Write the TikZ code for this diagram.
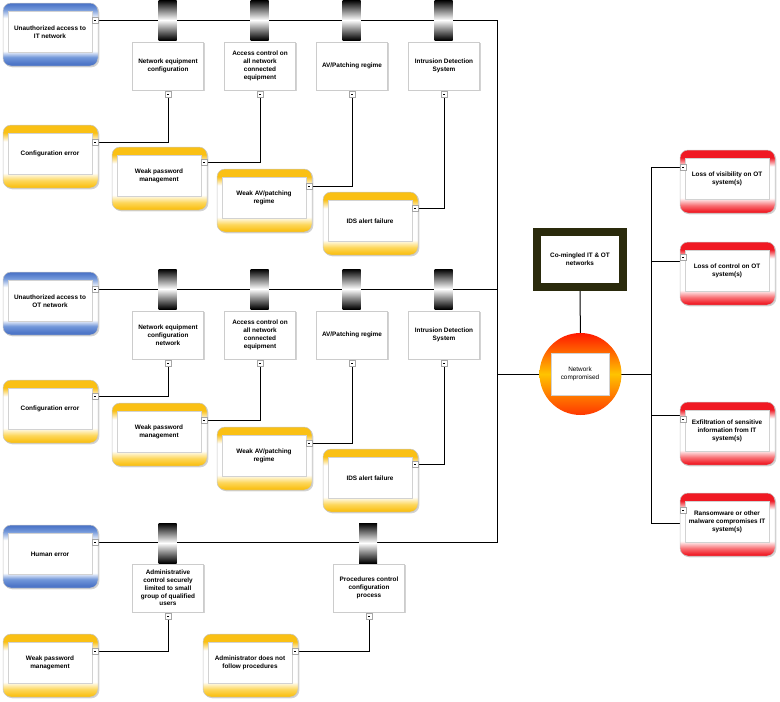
\documentclass[tikz,border=0pt]{standalone}
\usepackage{fontspec}
\setmainfont{Liberation Sans}
\usetikzlibrary{shadows}
\definecolor{yel}{RGB}{250,192,20}
\definecolor{yelb}{RGB}{253,215,90}
\definecolor{blu}{RGB}{78,118,200}
\definecolor{blub}{RGB}{115,152,218}
\definecolor{rd}{RGB}{240,25,35}
\definecolor{rdb}{RGB}{248,110,115}
\definecolor{olivebox}{RGB}{42,42,12}
\pgfdeclareverticalshading{yshade}{100bp}{color(0bp)=(yel); color(26bp)=(yel); color(31bp)=(yelb); color(37bp)=(white); color(62bp)=(white); color(69bp)=(yel); color(100bp)=(yel)}
\pgfdeclareverticalshading{bshade}{100bp}{color(0bp)=(blu); color(27bp)=(blu); color(32bp)=(blub); color(37bp)=(white); color(63bp)=(white); color(70bp)=(blub); color(74bp)=(blu); color(100bp)=(blu)}
\pgfdeclareverticalshading{rshade}{100bp}{color(0bp)=(rd); color(26bp)=(rd); color(31bp)=(rdb); color(37bp)=(white); color(62bp)=(white); color(69bp)=(rd); color(100bp)=(rd)}
\pgfdeclarelayer{bg}\pgfsetlayers{bg,main}
\tikzset{
 lbl/.style={font=\fontsize{6.4}{7.8}\selectfont\bfseries, align=center},
 shad/.style={drop shadow={shadow xshift=1.3pt,shadow yshift=-1.3pt,opacity=0.35}},
 outerbox/.style={rounded corners=8pt, minimum width=95pt, minimum height=63pt, draw=gray!45, line width=0.5pt, shad, inner sep=0pt},
 yellowbox/.style={outerbox, shade, shading=yshade},
 bluebox/.style={outerbox, shade, shading=bshade},
 redbox/.style={outerbox, shade, shading=rshade},
 innerbox/.style={lbl, draw=gray!35, fill=white, minimum width=84pt, minimum height=41pt, inner sep=1pt},
 ctrl/.style={lbl, draw=gray!40, fill=white, minimum width=71pt, minimum height=48pt, inner sep=1pt, shad},
 barrier/.style={minimum width=18pt, minimum height=40pt, inner sep=0pt, top color=black, bottom color=black, middle color=white},
 sq/.style={draw=gray!70, fill=white, minimum size=5.5pt, inner sep=0pt, line width=0.3pt,
   path picture={\draw[black, line width=0.5pt] ([xshift=-1pt]path picture bounding box.center) -- ([xshift=1pt]path picture bounding box.center);}},
 wire/.style={line width=1pt, black},
}
\newcommand\riskbox[5]{%
  \node[#4] (#1) at ({#2+47.5},{#3+31.5}) {};
  \node[innerbox] (#1i) at ({#2+47},{#3+29}) {#5};}
\begin{document}
\begin{tikzpicture}[x=1pt,y=-1pt]
\useasboundingbox (0,0) rectangle (780,702);

% ---------- Section 1: IT ----------
\riskbox{it}{3}{3}{bluebox}{Unauthorized access to\\IT network}
\node[sq] (sit) at (95,20) {};
\node[barrier] (b1a) at (167.5,20) {};
\node[barrier] (b1b) at (259.5,20) {};
\node[barrier] (b1c) at (351.5,20) {};
\node[barrier] (b1d) at (443.5,20) {};
\node[ctrl] (c1a) at (168,66) {Network equipment\\configuration};
\node[ctrl] (c1b) at (260,66) {Access control on\\all network\\connected\\equipment};
\node[ctrl] (c1c) at (352,66) {AV/Patching regime};
\node[ctrl] (c1d) at (444,66) {Intrusion Detection\\System};
\node[sq] (sc1a) at (168,94) {};
\node[sq] (sc1b) at (260,94) {};
\node[sq] (sc1c) at (352,94) {};
\node[sq] (sc1d) at (444,94) {};
\riskbox{cfg1}{3}{125}{yellowbox}{Configuration error}
\node[sq] (scfg1) at (95,142) {};
\riskbox{wpm1}{112}{147}{yellowbox}{Weak password\\management}
\node[sq] (swpm1) at (204,162) {};
\riskbox{wav1}{217}{169}{yellowbox}{Weak AV/patching\\regime}
\node[sq] (swav1) at (309,186) {};
\riskbox{ids1}{323}{192}{yellowbox}{IDS alert failure}
\node[sq] (sids1) at (415,208) {};

% ---------- Section 2: OT ----------
\riskbox{ot}{3}{272}{bluebox}{Unauthorized access to\\OT network}
\node[sq] (sot) at (95,289) {};
\node[barrier] (b2a) at (167.5,289) {};
\node[barrier] (b2b) at (259.5,289) {};
\node[barrier] (b2c) at (351.5,289) {};
\node[barrier] (b2d) at (443.5,289) {};
\node[ctrl] (c2a) at (168,335) {Network equipment\\configuration\\network};
\node[ctrl] (c2b) at (260,335) {Access control on\\all network\\connected\\equipment};
\node[ctrl] (c2c) at (352,335) {AV/Patching regime};
\node[ctrl] (c2d) at (444,335) {Intrusion Detection\\System};
\node[sq] (sc2a) at (168,363) {};
\node[sq] (sc2b) at (260,363) {};
\node[sq] (sc2c) at (352,363) {};
\node[sq] (sc2d) at (444,363) {};
\riskbox{cfg2}{3}{380}{yellowbox}{Configuration error}
\node[sq] (scfg2) at (95,396) {};
\riskbox{wpm2}{112}{403}{yellowbox}{Weak password\\management}
\node[sq] (swpm2) at (204,420) {};
\riskbox{wav2}{217}{427}{yellowbox}{Weak AV/patching\\regime}
\node[sq] (swav2) at (309,443) {};
\riskbox{ids2}{323}{449}{yellowbox}{IDS alert failure}
\node[sq] (sids2) at (415,464) {};

% ---------- Section 3: Human error ----------
\riskbox{he}{3}{525}{bluebox}{Human error}
\node[sq] (she) at (95,542) {};
\node[barrier] (b3a) at (167.5,543) {};
\node[barrier] (b3b) at (368,543) {};
\node[ctrl] (c3a) at (168,588) {Administrative\\control securely\\limited to small\\group of qualified\\users};
\node[ctrl] (c3b) at (369,588) {Procedures control\\configuration\\process};
\node[sq] (sc3a) at (168,616) {};
\node[sq] (sc3b) at (369,616) {};
\riskbox{wpm3}{3}{634}{yellowbox}{Weak password\\management}
\node[sq] (swpm3) at (95,651) {};
\riskbox{adm}{203}{634}{yellowbox}{Administrator does not\\follow procedures}
\node[sq] (sadm) at (295,651) {};

% ---------- Centre ----------
\node[draw=olivebox, line width=8pt, fill=white, minimum width=86pt, minimum height=55pt, lbl] (cm) at (580,259.5) {Co-mingled IT \& OT\\networks};
\node[circle, minimum size=82pt, inner sep=0pt, top color={rgb,255:red,255;green,25;blue,0}, bottom color={rgb,255:red,255;green,55;blue,0}, middle color={rgb,255:red,255;green,195;blue,0}] (nc) at (580.5,374) {};
\node[draw=gray!35, fill=white, minimum width=58pt, minimum height=42pt, font=\fontsize{6.4}{7.8}\selectfont, align=center] (nci) at (580,374) {Network\\compromised};

% ---------- Consequences ----------
\riskbox{r1}{680}{150}{redbox}{Loss of visibility on OT\\system(s)}
\node[sq] (sr1) at (683,167) {};
\riskbox{r2}{680}{242}{redbox}{Loss of control on OT\\system(s)}
\node[sq] (sr2) at (683,257) {};
\riskbox{r3}{680}{402}{redbox}{Exfiltration of sensitive\\information from IT\\system(s)}
\node[sq] (sr3) at (683,419) {};
\riskbox{r4}{680}{493}{redbox}{Ransomware or other\\malware compromises IT\\system(s)}
\node[sq] (sr4) at (683,510) {};

\coordinate (j1) at (497,20);
\coordinate (j2) at (497,289);
\coordinate (jc) at (497,374);
\coordinate (j3) at (497,542);
\coordinate (rv0) at (651,374);
\coordinate (rv1) at (651,167);
\coordinate (rv2) at (651,261);
\coordinate (rv3) at (651,415);
\coordinate (rv4) at (651,523);

\begin{pgfonlayer}{bg}
\draw[wire] (sit.center) -- (j1) -- (j3) -- (she.center);
\draw[wire] (sot.center) -- (j2);
\draw[wire] (jc) -- (nc.center);
\draw[wire] (scfg1.center) -| (sc1a.center);
\draw[wire] (swpm1.center) -| (sc1b.center);
\draw[wire] (swav1.center) -| (sc1c.center);
\draw[wire] (sids1.center) -| (sc1d.center);
\draw[wire] (scfg2.center) -| (sc2a.center);
\draw[wire] (swpm2.center) -| (sc2b.center);
\draw[wire] (swav2.center) -| (sc2c.center);
\draw[wire] (sids2.center) -| (sc2d.center);
\draw[wire] (swpm3.center) -| (sc3a.center);
\draw[wire] (sadm.center) -| (sc3b.center);
\draw[wire] (cm.center) -- (nc.center);
\draw[wire] (nc.center) -- (rv0);
\draw[wire] (rv1) -- (rv4);
\draw[wire] (rv1) -- (rv1 -| r1.west);
\draw[wire] (rv2) -- (rv2 -| r2.west);
\draw[wire] (rv3) -- (rv3 -| r3.west);
\draw[wire] (rv4) -- (rv4 -| r4.west);
\end{pgfonlayer}
\end{tikzpicture}
\end{document}
